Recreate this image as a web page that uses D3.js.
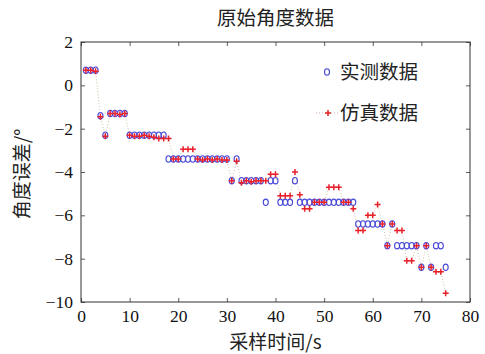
<!DOCTYPE html>
<html>
<head>
<meta charset="utf-8">
<script src="https://cdn.jsdelivr.net/npm/d3@7"></script>
<style>
	body { margin: 0; background: #fff; }
	svg { display: block; }
</style>
</head>
<body>
<svg id="chart" width="485" height="354"></svg>
<script>
// dados
const times = [1, 2, 3, 4, 5, 6, 7, 8, 9, 10, 11, 12, 13, 14, 15, 16, 17, 18, 19, 20,
	21, 22, 23, 24, 25, 26, 27, 28, 29, 30, 31, 32, 33, 34, 35, 36, 37, 38, 39, 40,
	41, 42, 43, 44, 45, 46, 47, 48, 49, 50, 51, 52, 53, 54, 55, 56, 57, 58, 59, 60,
	61, 62, 63, 64, 65, 66, 67, 68, 69, 70, 71, 72, 73, 74, 75];

const measured = [0.7, 0.7, 0.7, -1.4, -2.3, -1.3, -1.3, -1.3, -1.3,
	-2.3, -2.3, -2.3, -2.3, -2.3, -2.3, -2.3, -2.3,
	-3.4, -3.4, -3.4, -3.4, -3.4, -3.4, -3.4, -3.4, -3.4, -3.4, -3.4, -3.4, -3.4,
	-4.4, -3.4, -4.4, -4.4, -4.4, -4.4, -4.4, -5.4, -4.4, -4.4,
	-5.4, -5.4, -5.4, -4.4,
	-5.4, -5.4, -5.4, -5.4, -5.4, -5.4, -5.4, -5.4, -5.4, -5.4, -5.4, -5.4,
	-6.4, -6.4, -6.4, -6.4, -6.4, -6.4, -7.4, -6.4,
	-7.4, -7.4, -7.4, -7.4, -7.4, -8.4, -7.4, -8.4, -7.4, -7.4, -8.4];

const simulated = [0.7, 0.7, 0.65, -1.45, -2.35, -1.3, -1.3, -1.35, -1.3,
	-2.3, -2.35, -2.35, -2.3, -2.35, -2.4, -2.45, -2.45, -2.45,
	-3.4, -3.4, -2.95, -2.95, -2.95, -3.4, -3.45, -3.4, -3.45, -3.4, -3.45, -3.45,
	-4.4, -3.5, -4.5, -4.4, -4.45, -4.4, -4.4, -4.4, -4.1, -4.1,
	-5.1, -5.1, -5.1, -4.0, -5.05, -5.7, -5.7, -5.4, -5.4, -5.4,
	-4.7, -4.7, -4.7, -5.4, -5.4, -5.7,
	-6.7, -6.7, -6.0, -6.0, -5.5, -6.4, -7.4, -6.4,
	-6.7, -6.7, -8.1, -8.1, -7.4, -8.4, -7.4, -8.4, -8.6, -8.6, -9.6];

const xTicks = [0, 10, 20, 30, 40, 50, 60, 70, 80];
const yTicks = [2, 0, -2, -4, -6, -8, -10];

const titleText = "原始角度数据";
const xLabel = "采样时间/s";
const yLabel = "角度误差/°";
const seriesNames = ["实测数据", "仿真数据"];

// área do gráfico
const plot = { left: 81, right: 470, top: 42, bottom: 302 };
const cjk = "'Noto Sans CJK SC', sans-serif";
const serif = "'Liberation Serif', 'DejaVu Serif', serif";
const blue = "#4a4ad8";
const red = "#e8202a";
const axisColor = "#333";

const svg = d3.select("#chart");

const x = d3.scaleLinear().domain([0, 80]).range([plot.left, plot.right]);
const y = d3.scaleLinear().domain([-10, 2]).range([plot.bottom, plot.top]);

const fmt = (v) => (v < 0 ? "\u2212" + Math.abs(v) : String(v));

// eixos com ticks para dentro, espelhados nos quatro lados
const axisBottom = d3.axisBottom(x).tickValues(xTicks).tickSizeInner(-4).tickSizeOuter(0).tickPadding(8).tickFormat(fmt);
const axisTop = d3.axisTop(x).tickValues(xTicks).tickSizeInner(-4).tickSizeOuter(0).tickFormat("");
const axisLeft = d3.axisLeft(y).tickValues(yTicks).tickSizeInner(-4).tickSizeOuter(0).tickPadding(8).tickFormat(fmt);
const axisRight = d3.axisRight(y).tickValues(yTicks).tickSizeInner(-4).tickSizeOuter(0).tickFormat("");

const axes = [
	[axisBottom, `translate(0,${plot.bottom})`],
	[axisTop, `translate(0,${plot.top})`],
	[axisLeft, `translate(${plot.left},0)`],
	[axisRight, `translate(${plot.right},0)`]
];
axes.forEach(([ax, tr]) => {
	const g = svg.append("g").attr("transform", tr).call(ax);
	g.select(".domain").remove();
	g.selectAll(".tick line").attr("stroke", axisColor).attr("stroke-width", 0.8);
	g.selectAll(".tick text")
		.attr("fill", "#111")
		.style("font-family", serif)
		.style("font-size", "17.5px");
});

// moldura
svg.append("rect")
	.attr("x", plot.left)
	.attr("y", plot.top)
	.attr("width", plot.right - plot.left)
	.attr("height", plot.bottom - plot.top)
	.attr("fill", "none")
	.attr("stroke", axisColor)
	.attr("stroke-width", 1);

// linha pontilhada da simulação
const line = d3.line()
	.x((d, i) => x(times[i]))
	.y((d) => y(d));

svg.append("path")
	.attr("d", line(simulated))
	.attr("fill", "none")
	.attr("stroke", "#c9b898")
	.attr("stroke-width", 0.9)
	.attr("stroke-dasharray", "1,2");

// marcadores: círculos (medido)
svg.append("g")
	.selectAll("ellipse")
	.data(measured)
	.join("ellipse")
	.attr("cx", (d, i) => x(times[i]))
	.attr("cy", (d) => y(d))
	.attr("rx", 2.5)
	.attr("ry", 3.2)
	.attr("fill", "none")
	.attr("stroke", blue)
	.attr("stroke-width", 1.1);

// marcadores: cruzes (simulado)
const crossPath = (cx, cy, s) => `M${cx - s},${cy}H${cx + s}M${cx},${cy - s}V${cy + s}`;

svg.append("g")
	.selectAll("path")
	.data(simulated)
	.join("path")
	.attr("d", (d, i) => crossPath(x(times[i]), y(d), 3))
	.attr("stroke", red)
	.attr("stroke-width", 1.5);

// legenda
const legend = svg.append("g");
legend.append("ellipse")
	.attr("cx", 327).attr("cy", 72)
	.attr("rx", 2.5).attr("ry", 3.2)
	.attr("fill", "none").attr("stroke", blue).attr("stroke-width", 1.1);
legend.append("text")
	.attr("x", 340).attr("y", 79)
	.text(seriesNames[0]);
legend.append("line")
	.attr("x1", 316).attr("x2", 338).attr("y1", 113).attr("y2", 113)
	.attr("stroke", "#c9a0a0").attr("stroke-width", 0.9).attr("stroke-dasharray", "1,2");
legend.append("path")
	.attr("d", crossPath(328, 113, 3))
	.attr("stroke", red).attr("stroke-width", 1.5);
legend.append("text")
	.attr("x", 340).attr("y", 120)
	.text(seriesNames[1]);
legend.selectAll("text")
	.attr("fill", "#222")
	.style("font-family", cjk)
	.style("font-size", "19.5px");

// título e rótulos
svg.append("text")
	.attr("x", (plot.left + plot.right) / 2)
	.attr("y", 25)
	.attr("text-anchor", "middle")
	.attr("fill", "#222")
	.style("font-family", cjk)
	.style("font-size", "19.5px")
	.text(titleText);

svg.append("text")
	.attr("x", (plot.left + plot.right) / 2)
	.attr("y", 349)
	.attr("text-anchor", "middle")
	.attr("fill", "#222")
	.style("font-family", cjk)
	.style("font-size", "19px")
	.text(xLabel);

svg.append("text")
	.attr("transform", `translate(29,${(plot.top + plot.bottom) / 2 + 2}) rotate(-90)`)
	.attr("text-anchor", "middle")
	.attr("fill", "#222")
	.style("font-family", cjk)
	.style("font-size", "19px")
	.text(yLabel);
</script>
</body>
</html>
